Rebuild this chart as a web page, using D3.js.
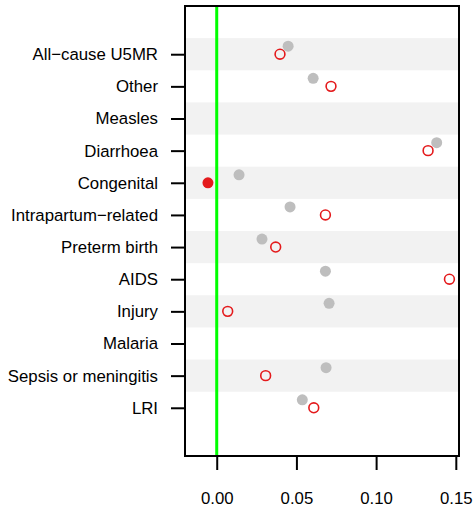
<!DOCTYPE html>
<html>
<head>
<meta charset="utf-8">
<script src="https://cdn.jsdelivr.net/npm/d3@7"></script>
<style>
  body { margin: 0; background: #fff; }
  text { font-family: "Liberation Sans", Arial, sans-serif; }
</style>
</head>
<body>
<div id="chart"></div>
<script>
// categories, top to bottom
const causes = ["All\u2212cause U5MR", "Other", "Measles", "Diarrhoea", "Congenital",
  "Intrapartum\u2212related", "Preterm birth", "AIDS", "Injury", "Malaria",
  "Sepsis or meningitis", "LRI"];
// grey filled points (null = none)
const greyVals = [0.0448, 0.0605, null, 0.138, 0.014, 0.046, 0.0284, 0.0682, 0.0705, null, 0.0686, 0.0537];
// red points (null = none)
const redVals = [0.0397, 0.0717, null, 0.1326, -0.0055, 0.0682, 0.037, 0.146, 0.0069, null, 0.0307, 0.0609];
// which red points are filled
const redFilled = [false, false, false, false, true, false, false, false, false, false, false, false];
const xTicks = [0, 0.05, 0.10, 0.15];

// set the dimensions and margins of the graph
const w = 474, h = 513;
const margin = {top: 6, right: 15, bottom: 57, left: 185},
    width = w - margin.left - margin.right,
    height = h - margin.top - margin.bottom;

const svg = d3.select("#chart")
  .append("svg")
    .attr("width", w)
    .attr("height", h)
  .append("g")
    .attr("transform", `translate(${margin.left}, ${margin.top})`);

const x = d3.scaleLinear()
  .domain([-0.0199, 0.152])
  .range([0, width]);

const y = d3.scaleLinear()
  .domain([-1.5, causes.length + 0.5])
  .range([0, height]);

const rowH = y(1) - y(0);

// alternating bands
svg.selectAll("band")
  .data(causes.map((d, i) => i).filter(i => i % 2 === 0))
  .enter()
  .append("rect")
    .attr("x", 0)
    .attr("y", i => y(i) - rowH / 2)
    .attr("width", width)
    .attr("height", rowH)
    .attr("fill", "#f2f2f2");

// zero line
svg.append("line")
  .attr("x1", x(0)).attr("x2", x(0))
  .attr("y1", 0).attr("y2", height)
  .attr("stroke", "#00ff00")
  .attr("stroke-width", 3);

// grey points
svg.selectAll("grey-pt")
  .data(greyVals.map((v, i) => ({v, i})).filter(d => d.v !== null))
  .enter()
  .append("circle")
    .attr("cx", d => x(d.v))
    .attr("cy", d => y(d.i) - 8)
    .attr("r", 5.5)
    .attr("fill", "#bebebe");

// red points
svg.selectAll("red-pt")
  .data(redVals.map((v, i) => ({v, i, f: redFilled[i]})).filter(d => d.v !== null))
  .enter()
  .append("circle")
    .attr("cx", d => x(d.v))
    .attr("cy", d => y(d.i))
    .attr("r", d => d.f ? 5.5 : 4.9)
    .attr("fill", d => d.f ? "#e41a1c" : "none")
    .attr("stroke", d => d.f ? "none" : "#e41a1c")
    .attr("stroke-width", 1.6);

// Y axis
const yAxis = svg.append("g")
  .call(d3.axisLeft(y).tickValues(d3.range(causes.length))
    .tickFormat(i => causes[i]).tickSize(14).tickPadding(13));
yAxis.select(".domain").remove();
yAxis.selectAll("line").attr("stroke", "#000").attr("stroke-width", 2);
yAxis.selectAll("text").style("font-size", "16.8px").attr("fill", "#000");

// X axis
const xAxis = svg.append("g")
  .attr("transform", `translate(0, ${height})`)
  .call(d3.axisBottom(x).tickValues(xTicks)
    .tickFormat(d3.format(".2f")).tickSize(14).tickPadding(22));
xAxis.select(".domain").remove();
xAxis.selectAll("line").attr("stroke", "#000").attr("stroke-width", 2);
xAxis.selectAll("text").style("font-size", "16.8px").attr("fill", "#000");

// plot box
svg.append("rect")
  .attr("x", 0).attr("y", 0)
  .attr("width", width).attr("height", height)
  .attr("fill", "none")
  .attr("stroke", "#000")
  .attr("stroke-width", 2);
</script>
</body>
</html>
